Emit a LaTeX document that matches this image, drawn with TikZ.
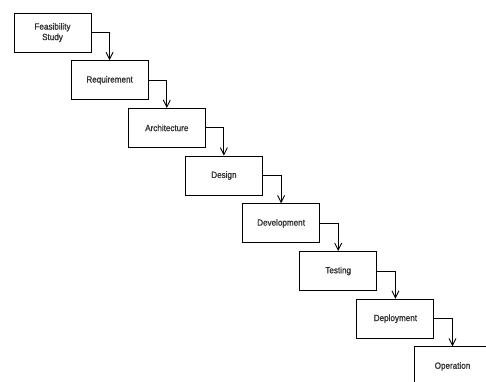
\documentclass[tikz,border=0pt]{standalone}
\usepackage{fontspec}
\setmainfont{Liberation Sans}
\newfontfamily\stagefont[FakeBold=1.3,FakeStretch=0.9]{Liberation Sans}
\usetikzlibrary{arrows.meta}
\begin{document}
\begin{tikzpicture}[x=1pt,y=-1pt,
  stage/.style={draw=black, line width=0.9pt, minimum width=77pt, minimum height=39pt,
    inner sep=0pt, align=center, text=black!80, font=\stagefont\fontsize{9}{10.5}\selectfont, fill=white},
  flow/.style={draw=black, line width=0.9pt, -{Straight Barb[length=7pt,width=7pt]}}]
\useasboundingbox (0,0) rectangle (486,381);
\clip (0,0) rectangle (486,381);
\fill[white] (0,0) rectangle (486,381);
\node[stage] (s1) at (52.5,32.5) {Feasibility\\Study};
\node[stage] (s2) at (109.6,80.2) {Requirement};
\node[stage] (s3) at (166.8,127.9) {Architecture};
\node[stage] (s4) at (223.9,175.6) {Design};
\node[stage] (s5) at (281.1,223.3) {Development};
\node[stage] (s6) at (338.2,271.0) {Testing};
\node[stage] (s7) at (395.4,318.7) {Deployment};
\node[stage] (s8) at (452.5,366.4) {Operation};
\draw[flow] (s1.east) -| (s2.north);
\draw[flow] (s2.east) -| (s3.north);
\draw[flow] (s3.east) -| (s4.north);
\draw[flow] (s4.east) -| (s5.north);
\draw[flow] (s5.east) -| (s6.north);
\draw[flow] (s6.east) -| (s7.north);
\draw[flow] (s7.east) -| (s8.north);
\end{tikzpicture}
\end{document}
